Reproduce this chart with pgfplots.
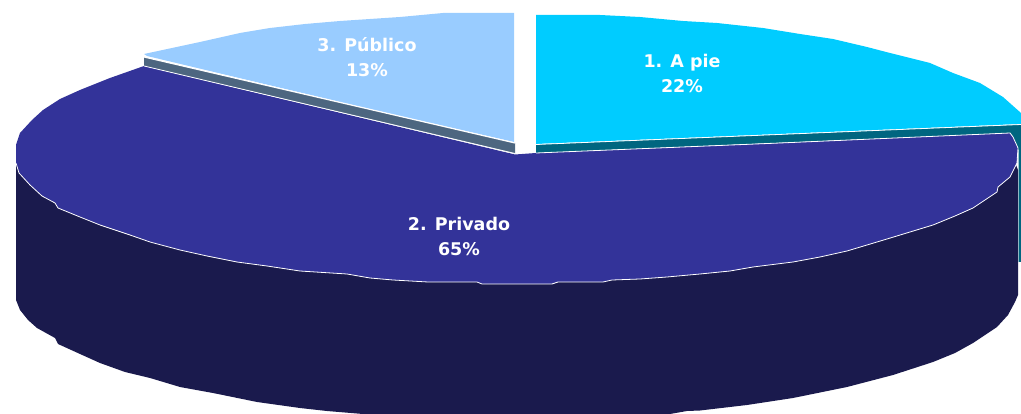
\documentclass[border=0pt]{standalone}
\usepackage{fontspec}
\setmainfont{DejaVu Sans}
\usepackage{pgfplots}
\pgfplotsset{compat=1.18}
\definecolor{cyanS}{HTML}{00CCFF}
\definecolor{blueS}{HTML}{99CCFF}
\definecolor{purpS}{HTML}{333399}
\definecolor{darkS}{HTML}{1A1A4D}
\definecolor{tealS}{HTML}{006680}
\definecolor{wallS}{HTML}{4D6680}
\tikzset{lab/.style={text=white,font=\fontsize{17.5}{25}\selectfont\bfseries,align=center,anchor=center}}
\begin{document}
\begin{tikzpicture}
\path (0,0) rectangle (1021pt,414pt);
\begin{axis}[at={(0,0)},anchor=south west,scale only axis,width=1021pt,height=414pt,xmin=0,xmax=1021,ymin=0,ymax=414,y dir=reverse,hide axis]
% dark side
\addplot[fill=darkS,draw=none] coordinates {(16,160)(1016,165)(1018,170)(1018,295)(1015,302)(1008,315)(997,327)(985,335)(973,343)(955,353)(933,362)(893,375)(847,387)(793,398)(747,405)(700,410.5)(687,411)(670,414)(363,414)(327,411)(300,408)(257,402)(213,393)(180,387)(150,378)(125,372)(100,363)(80,354)(58,344)(55,338)(37,328)(28,320)(20,310)(16,300)} --cycle;
% teal wall
\addplot[fill=tealS,draw=none] coordinates {(536,144.5)(1021,124.5)(1021,262)(1018.5,262)(1018.5,150)(1013,137)(1010,133)(536,153)} --cycle;
% grey-blue wall
\addplot[fill=wallS,draw=none] coordinates {(144,57)(515,143)(515,153.5)(144,66)} --cycle;
% purple top
\addplot[fill=purpS,draw=none] coordinates {(144,66)(110,78)(80,90)(60,99)(43,110)(32,120)(20,133)(16,145)(16,163)(19,173)(30,185)(42,196)(55,203)(58,208)(80,217)(100,225)(130,235)(150,242)(180,250)(207,256)(237,262)(267,266)(300,271)(347,274)(370,278)(393,280)(428,282)(477,282)(482,284)(552,284)(558,282)(603,282)(612,280)(640,279)(667,277)(700,274)(730,271)(753,267)(793,262)(820,257)(847,251)(887,239)(933,225)(955,216)(973,208)(985,200)(997,192)(998,187)(1010,177)(1017,163)(1018,148)(1013,137)(1010,133)(780,143)(536,153)(515,154.5)} --cycle;
% light blue
\addplot[fill=blueS,draw=none] coordinates {(144,54)(172,48)(200,42)(240,33)(270,28)(305,24)(340,21)(400,17)(443,13)(514,13)(514,142)(400,116)(340,102)(147,56)} --cycle;
% cyan
\addplot[fill=cyanS,draw=none] coordinates {(536,15)(600,15)(640,17)(683,21)(717,23)(763,28)(800,34)(833,39)(867,47)(890,53)(930,63)(953,73)(980,83)(1003,97)(1021,113)(1021,124)(780,134)(536,144)} --cycle;
% white seams
\addplot[white,line width=0.8pt] coordinates {(16,163)(19,173)(30,185)(42,196)(55,203)(58,208)(80,217)(100,225)(130,235)(150,242)(180,250)(207,256)(237,262)(267,266)(300,271)(347,274)(370,278)(393,280)(428,282)(477,282)(482,284)(552,284)(558,282)(603,282)(612,280)(640,279)(667,277)(700,274)(730,271)(753,267)(793,262)(820,257)(847,251)(887,239)(933,225)(955,216)(973,208)(985,200)(997,192)(998,187)(1010,177)(1017,163)(1018,148)(1013,137)(1010,133)(780,143)(536,153)};
\addplot[white,line width=0.8pt] coordinates {(144,66)(515,153.5)};
\addplot[white,line width=1.2pt] coordinates {(144,57)(515,143)};
\addplot[white,line width=0.8pt] coordinates {(536,144.5)(1021,124.5)};
\node[lab] at (axis cs:682,73.5) {1. A pie\\22\%};
\node[lab] at (axis cs:459,236.5) {2. Privado\\65\%};
\node[lab] at (axis cs:367,57.5) {3. Público\\13\%};
\end{axis}
\end{tikzpicture}
\end{document}
